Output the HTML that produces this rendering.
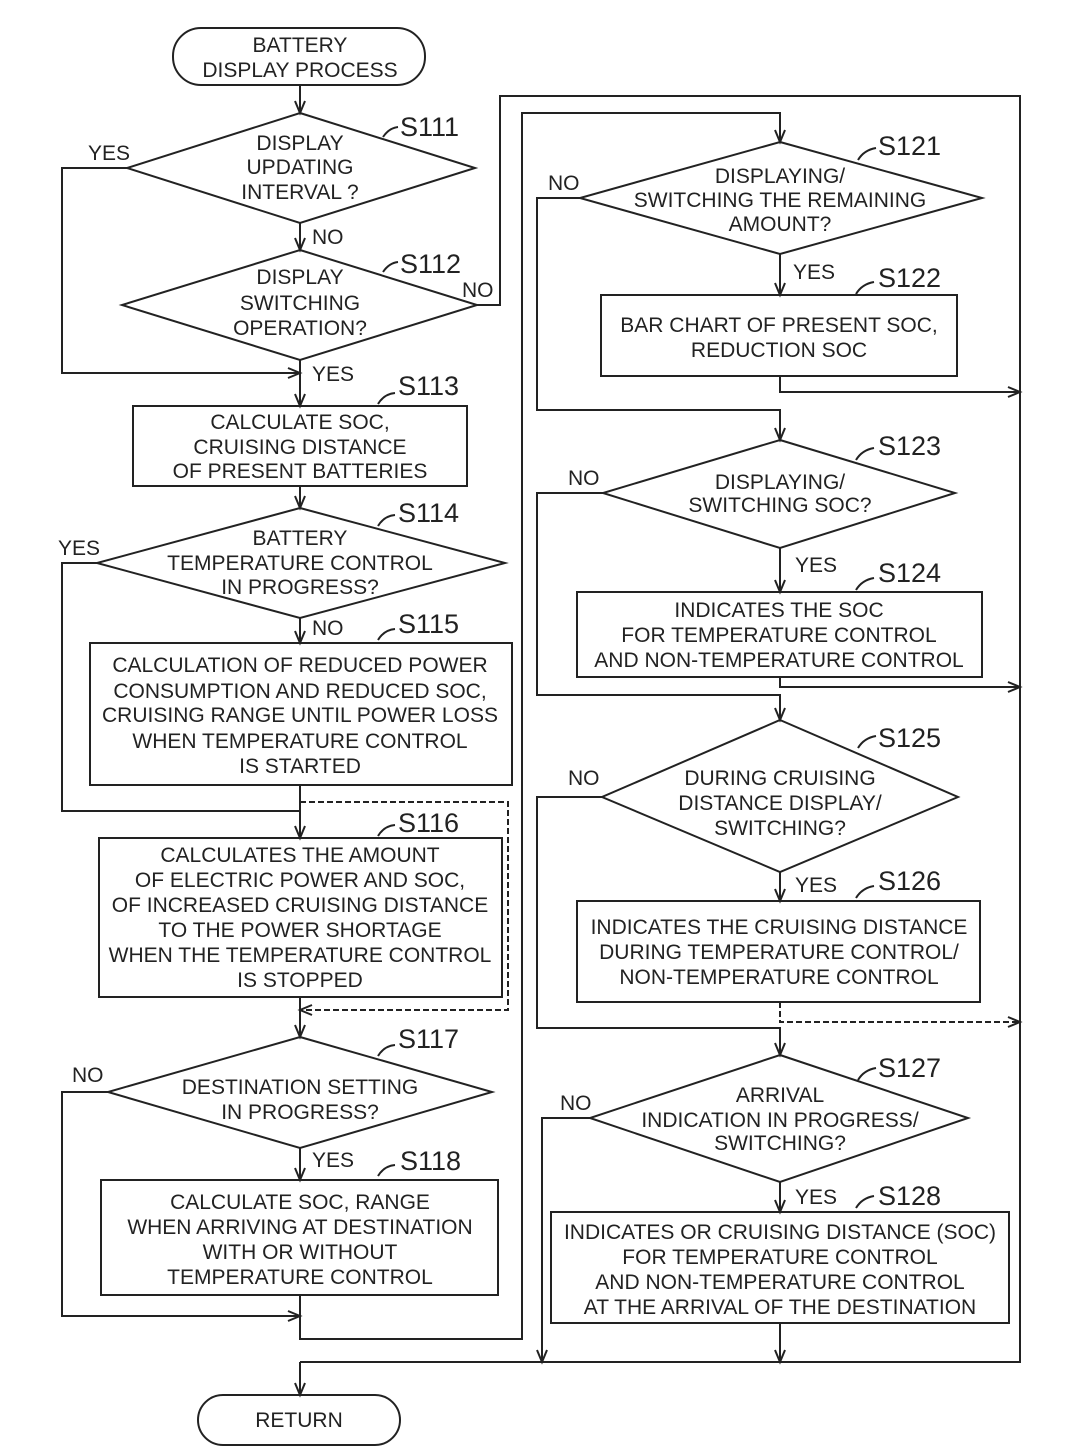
<!DOCTYPE html>
<html><head><meta charset="utf-8">
<style>
html,body{margin:0;padding:0;background:#fff;}
svg{display:block;}
text{font-family:"Liberation Sans",Arial,sans-serif;fill:#222;}
.t{font-size:21px;text-anchor:middle;}
.l{font-size:21px;}
.s{font-size:27px;}
.ln{stroke:#222;stroke-width:2;fill:none;}
.d{stroke-dasharray:6 3;}
</style></head>
<body>
<svg width="1071" height="1451" viewBox="0 0 1071 1451" xmlns="http://www.w3.org/2000/svg">
<rect width="1071" height="1451" fill="#fff"/>
<g class="ln">
<!-- start terminal -->
<rect x="173" y="28" width="252" height="57" rx="28" ry="28"/>
<line x1="300" y1="85" x2="300" y2="113"/>
<polyline points="295,101 300,113 305,101"/>
<!-- S111 -->
<polygon points="300,113 475,168 300,223 127,168"/>
<polyline points="127,168 62,168 62,373 300,373"/>
<polyline points="288,368 300,373 288,378"/>
<line x1="300" y1="223" x2="300" y2="250"/>
<polyline points="295,238 300,250 305,238"/>
<path d="M383,137 q6,-9 15,-10"/>
<!-- S112 -->
<polygon points="300,250 477,305 300,360 122,305"/>
<polyline points="477,305 500,305 500,96 1020,96 1020,1362 300,1362"/>
<line x1="300" y1="360" x2="300" y2="406"/>
<polyline points="295,394 300,406 305,394"/>
<path d="M383,272 q6,-9 15,-10"/>
<!-- S113 -->
<rect x="133" y="406" width="334" height="80"/>
<path d="M378,404 q6,-10 17,-11"/>
<line x1="300" y1="486" x2="300" y2="508"/>
<polyline points="295,496 300,508 305,496"/>
<!-- S114 -->
<polygon points="300,508 505,563 300,618 97,563"/>
<path d="M378,526 q6,-10 17,-11"/>
<polyline points="97,563 62,563 62,811 300,811"/>
<line x1="300" y1="618" x2="300" y2="643"/>
<polyline points="295,631 300,643 305,631"/>
<!-- S115 -->
<rect x="90" y="643" width="422" height="142"/>
<path d="M378,640 q6,-10 17,-11"/>
<line x1="300" y1="785" x2="300" y2="838"/>
<polyline points="295,826 300,838 305,826"/>
<polyline class="d" points="300,802 508,802 508,1010 300,1010"/>
<polyline points="312,1005 300,1010 312,1015"/>
<!-- S116 -->
<rect x="99" y="838" width="403" height="159"/>
<path d="M378,836 q6,-10 17,-11"/>
<line x1="300" y1="997" x2="300" y2="1037"/>
<polyline points="295,1025 300,1037 305,1025"/>
<!-- S117 -->
<polygon points="300,1037 492,1092 300,1148 108,1092"/>
<path d="M378,1056 q6,-10 17,-11"/>
<polyline points="108,1092 62,1092 62,1316 300,1316"/>
<polyline points="288,1311 300,1316 288,1321"/>
<line x1="300" y1="1148" x2="300" y2="1180"/>
<polyline points="295,1168 300,1180 305,1168"/>
<!-- S118 -->
<rect x="101" y="1180" width="397" height="115"/>
<path d="M378,1176 q6,-10 17,-11"/>
<polyline points="300,1295 300,1339 522,1339 522,113 780,113 780,142"/>
<polyline points="775,130 780,142 785,130"/>
<!-- return -->
<line x1="300" y1="1362" x2="300" y2="1395"/>
<polyline points="295,1383 300,1395 305,1383"/>
<rect x="198" y="1395" width="202" height="50" rx="25" ry="25"/>

<!-- S121 -->
<polygon points="780,142 982,198 780,254 580,198"/>
<path d="M858,160 q6,-10 18,-12"/>
<polyline points="580,198 537,198 537,410 780,410 780,440"/>
<polyline points="775,428 780,440 785,428"/>
<line x1="780" y1="254" x2="780" y2="295"/>
<polyline points="775,283 780,295 785,283"/>
<!-- S122 -->
<rect x="601" y="295" width="356" height="81"/>
<path d="M856,294 q6,-10 18,-12"/>
<polyline points="780,376 780,392 1020,392"/>
<polyline points="1008,387 1020,392 1008,397"/>
<!-- S123 -->
<polygon points="780,440 955,493 780,548 603,493"/>
<path d="M856,460 q6,-10 18,-12"/>
<polyline points="603,493 537,493 537,695 780,695 780,720"/>
<polyline points="775,708 780,720 785,708"/>
<line x1="780" y1="548" x2="780" y2="592"/>
<polyline points="775,580 780,592 785,580"/>
<!-- S124 -->
<rect x="577" y="592" width="405" height="85"/>
<path d="M856,590 q6,-10 18,-12"/>
<polyline points="780,677 780,687 1020,687"/>
<polyline points="1008,682 1020,687 1008,692"/>
<!-- S125 -->
<polygon points="780,720 958,797 780,872 602,797"/>
<path d="M858,748 q6,-10 18,-12"/>
<polyline points="602,797 537,797 537,1028 780,1028 780,1055"/>
<polyline points="775,1043 780,1055 785,1043"/>
<line x1="780" y1="872" x2="780" y2="901"/>
<polyline points="775,889 780,901 785,889"/>
<!-- S126 -->
<rect x="577" y="901" width="403" height="101"/>
<path d="M856,898 q6,-10 18,-12"/>
<polyline class="d" points="780,1002 780,1022 1020,1022"/>
<polyline points="1008,1017 1020,1022 1008,1027"/>
<!-- S127 -->
<polygon points="780,1055 968,1118 780,1182 590,1118"/>
<path d="M858,1080 q6,-10 18,-12"/>
<polyline points="590,1118 542,1118 542,1362"/>
<polyline points="537,1350 542,1362 547,1350"/>
<line x1="780" y1="1182" x2="780" y2="1212"/>
<polyline points="775,1200 780,1212 785,1200"/>
<!-- S128 -->
<rect x="551" y="1212" width="458" height="111"/>
<path d="M856,1208 q6,-10 18,-12"/>
<line x1="780" y1="1323" x2="780" y2="1362"/>
<polyline points="775,1350 780,1362 785,1350"/>
</g>

<g>
<!-- left column text -->
<text class="t" x="300" y="52">BATTERY</text>
<text class="t" x="300" y="77">DISPLAY PROCESS</text>

<text class="t" x="300" y="150">DISPLAY</text>
<text class="t" x="300" y="174">UPDATING</text>
<text class="t" x="300" y="199">INTERVAL ?</text>
<text class="s" x="400" y="136">S111</text>
<text class="l" x="88" y="160">YES</text>
<text class="l" x="312" y="244">NO</text>

<text class="t" x="300" y="284">DISPLAY</text>
<text class="t" x="300" y="310">SWITCHING</text>
<text class="t" x="300" y="335">OPERATION?</text>
<text class="s" x="400" y="273">S112</text>
<text class="l" x="462" y="297">NO</text>
<text class="l" x="312" y="381">YES</text>
<text class="s" x="398" y="395">S113</text>

<text class="t" x="300" y="429">CALCULATE SOC,</text>
<text class="t" x="300" y="454">CRUISING DISTANCE</text>
<text class="t" x="300" y="478">OF PRESENT BATTERIES</text>

<text class="s" x="398" y="522">S114</text>
<text class="t" x="300" y="545">BATTERY</text>
<text class="t" x="300" y="570">TEMPERATURE CONTROL</text>
<text class="t" x="300" y="594">IN PROGRESS?</text>
<text class="l" x="58" y="555">YES</text>
<text class="l" x="312" y="635">NO</text>
<text class="s" x="398" y="633">S115</text>

<text class="t" x="300" y="672">CALCULATION OF REDUCED POWER</text>
<text class="t" x="300" y="698">CONSUMPTION AND REDUCED SOC,</text>
<text class="t" x="300" y="722">CRUISING RANGE UNTIL POWER LOSS</text>
<text class="t" x="300" y="748">WHEN TEMPERATURE CONTROL</text>
<text class="t" x="300" y="773">IS STARTED</text>

<text class="s" x="398" y="832">S116</text>
<text class="t" x="300" y="862">CALCULATES THE AMOUNT</text>
<text class="t" x="300" y="887">OF ELECTRIC POWER AND SOC,</text>
<text class="t" x="300" y="912">OF INCREASED CRUISING DISTANCE</text>
<text class="t" x="300" y="937">TO THE POWER SHORTAGE</text>
<text class="t" x="300" y="962">WHEN THE TEMPERATURE CONTROL</text>
<text class="t" x="300" y="987">IS STOPPED</text>

<text class="s" x="398" y="1048">S117</text>
<text class="t" x="300" y="1094">DESTINATION SETTING</text>
<text class="t" x="300" y="1119">IN PROGRESS?</text>
<text class="l" x="72" y="1082">NO</text>
<text class="l" x="312" y="1167">YES</text>
<text class="s" x="400" y="1170">S118</text>

<text class="t" x="300" y="1209">CALCULATE SOC, RANGE</text>
<text class="t" x="300" y="1234">WHEN ARRIVING AT DESTINATION</text>
<text class="t" x="300" y="1259">WITH OR WITHOUT</text>
<text class="t" x="300" y="1284">TEMPERATURE CONTROL</text>

<text class="t" x="299" y="1427">RETURN</text>

<!-- right column text -->
<text class="s" x="878" y="155">S121</text>
<text class="t" x="780" y="183">DISPLAYING/</text>
<text class="t" x="780" y="207">SWITCHING THE REMAINING</text>
<text class="t" x="780" y="231">AMOUNT?</text>
<text class="l" x="548" y="190">NO</text>
<text class="l" x="793" y="279">YES</text>
<text class="s" x="878" y="287">S122</text>
<text class="t" x="779" y="332">BAR CHART OF PRESENT SOC,</text>
<text class="t" x="779" y="357">REDUCTION SOC</text>

<text class="s" x="878" y="455">S123</text>
<text class="t" x="780" y="489">DISPLAYING/</text>
<text class="t" x="780" y="512">SWITCHING SOC?</text>
<text class="l" x="568" y="485">NO</text>
<text class="l" x="795" y="572">YES</text>
<text class="s" x="878" y="582">S124</text>
<text class="t" x="779" y="617">INDICATES THE SOC</text>
<text class="t" x="779" y="642">FOR TEMPERATURE CONTROL</text>
<text class="t" x="779" y="667">AND NON-TEMPERATURE CONTROL</text>

<text class="s" x="878" y="747">S125</text>
<text class="t" x="780" y="785">DURING CRUISING</text>
<text class="t" x="780" y="810">DISTANCE DISPLAY/</text>
<text class="t" x="780" y="835">SWITCHING?</text>
<text class="l" x="568" y="785">NO</text>
<text class="l" x="795" y="892">YES</text>
<text class="s" x="878" y="890">S126</text>
<text class="t" x="779" y="934">INDICATES THE CRUISING DISTANCE</text>
<text class="t" x="779" y="959">DURING TEMPERATURE CONTROL/</text>
<text class="t" x="779" y="984">NON-TEMPERATURE CONTROL</text>

<text class="s" x="878" y="1077">S127</text>
<text class="t" x="780" y="1102">ARRIVAL</text>
<text class="t" x="780" y="1127">INDICATION IN PROGRESS/</text>
<text class="t" x="780" y="1150">SWITCHING?</text>
<text class="l" x="560" y="1110">NO</text>
<text class="l" x="795" y="1204">YES</text>
<text class="s" x="878" y="1205">S128</text>
<text class="t" x="780" y="1239">INDICATES OR CRUISING DISTANCE (SOC)</text>
<text class="t" x="780" y="1264">FOR TEMPERATURE CONTROL</text>
<text class="t" x="780" y="1289">AND NON-TEMPERATURE CONTROL</text>
<text class="t" x="780" y="1314">AT THE ARRIVAL OF THE DESTINATION</text>
</g>
</svg>
</body></html>
